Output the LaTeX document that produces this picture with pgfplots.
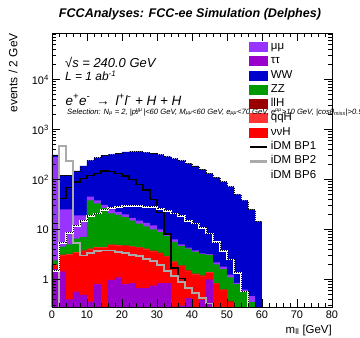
\documentclass[border=0pt]{standalone}
\usepackage{fontspec}
\setmainfont{Liberation Sans}
\usepackage{pgfplots}
\pgfplotsset{compat=1.18}
\usepackage{pgfplotstable}
\definecolor{cmm}{RGB}{153,51,255}
\definecolor{ctt}{RGB}{153,0,204}
\definecolor{cww}{RGB}{0,0,204}
\definecolor{czz}{RGB}{0,153,0}
\definecolor{cllh}{RGB}{153,0,0}
\definecolor{cqqh}{RGB}{255,51,51}
\definecolor{cvvh}{RGB}{255,0,0}
\definecolor{cbp2}{RGB}{170,170,170}
% cumulative stack tops (bottom to top: tt, vvH, qqH, llH, ZZ, mumu, WW) and signal lines
\pgfplotstableread{
x  tt    vvh   qqh   llh   zz    mm    ww    bp1   bp2   bp6
0  1.6   1.9   1.95  1.97  2.4   280   310   13    0.01  1.45
2  1.45  3.0   3.1   3.12  4.5   25    122   42    468   5.4
4  0.4   3.1   3.2   3.22  5.0   25    122   68    234   8.5
6  0.57  3.4   3.5   3.52  6.5   19    148   88    5.4   11.9
8  0.49  3.65  3.77  3.8   7.0   19    186   104   3.0   14.6
10 0.36  3.95  4.1   4.13  38    45    240   120   3.4   18.4
12 0.8   4.25  4.4   4.43  33    38    272   132   3.65  20.8
14 0.01  4.25  4.4   4.43  27    31    307   148   3.77  24.4
16 0.98  4.8   4.95  4.98  21    25    318   145   3.77  27
18 1.1   4.7   4.85  4.88  19.5  22.5  335   133   3.54  28.3
20 0.8   4.6   4.75  4.78  17.5  20    355   117   3.4   29
22 0.84  4.4   4.55  4.58  15    17    360   100   3.13  29
24 0.67  4.2   4.35  4.38  13    15    362   80    2.9   29
26 0.67  3.95  4.1   4.12  11.5  13.5  348   61    2.6   28.5
28 0.75  3.6   3.72  3.74  10    12    334   40    2.3   28
30 0.84  3.3   3.4   3.42  8.8   10    315   22    1.95  25.5
32 0.84  2.8   2.9   2.92  7.3   8.0   286   8.1   1.45  23
34 0.25  2.2   2.28  2.3   5.6   6.3   262   1.69  1.15  20.8
36 0.3   1.82  1.88  1.9   4.7   5.0   237   1.05  0.9   18.4
38 0.42  1.45  1.5   1.51  4.1   4.3   210   0.68  0.68  14.6
40 0.2   1.25  1.29  1.3   3.6   3.8   186   0.52  0.53  13.1
42 0.39  1.15  1.19  1.2   3.2   3.3   159   0.41  0.42  10.7
44 1.0   1.35  1.39  1.4   3.1   3.2   132   0.33  0.33  8.3
46 0.2   0.8   0.83  0.84  2.0   2.2   110   0.01  0.01  5.5
48 0.01  0.6   0.62  0.63  1.6   1.8   90    0.01  0.01  3.65
50 0.01  0.35  0.36  0.37  1.1   1.24  71.5  0.01  0.01  2.49
52 0.01  0.01  0.01  0.01  0.8   0.85  50    0.01  0.01  1.34
54 0.01  0.01  0.01  0.01  0.57  0.62  38    0.01  0.01  0.57
56 0.01  0.01  0.01  0.01  0.35  0.46  25    0.01  0.01  0.01
58 0.01  0.01  0.01  0.01  0.01  0.01  14.4  0.01  0.01  0.01
60 0.01  0.01  0.01  0.01  0.01  0.01  14.4  0.01  0.01  0.01
}\data
\begin{document}
\begin{tikzpicture}[x=1bp,y=1bp]
\begin{axis}[
  scale only axis, width=280bp, height=274bp,
  at={(0,0)}, anchor=south west,
  xmin=0, xmax=80, ymode=log, ymin=0.28, ymax=8.5e4, log origin=infty,
  axis on top,
  axis line style={line width=0.9bp},
  tick style={black, line width=0.6bp},
  major tick length=8bp, minor tick length=4bp,
  xtick={0,10,20,30,40,50,60,70,80},
  xticklabels={0,10,20,30,40,50,60,70,80},
  minor x tick num=4,
  ytick={1,10,100,1000,10000},
  yticklabels={1,10,10\textsuperscript{2},10\textsuperscript{3},10\textsuperscript{4}},
  minor ytick={0.3,0.4,0.5,0.6,0.7,0.8,0.9,2,3,4,5,6,7,8,9,20,30,40,50,60,70,80,90,200,300,400,500,600,700,800,900,2000,3000,4000,5000,6000,7000,8000,9000,20000,30000,40000,50000,60000,70000,80000},
  ticklabel style={font=\fontsize{11}{13}\selectfont},
  xticklabel style={inner sep=0pt, yshift=-3.5bp},
  yticklabel style={inner sep=0pt, xshift=-3bp},
  legend style={at={(0.703,0.977)}, anchor=north west, draw=none, fill=none,
    font=\fontsize{11.5}{13}\selectfont, inner sep=0pt, row sep=0pt,
    nodes={inner sep=0pt, text height=10bp, text depth=4.3bp},
    /tikz/every odd column/.append style={column sep=3.5bp}},
  legend cell align=left,
]
\addplot[fill=cww, draw=none, const plot, forget plot] table[x=x,y=ww]{\data} \closedcycle;
\addplot[fill=cmm, draw=none, const plot, forget plot] table[x=x,y=mm]{\data} \closedcycle;
\addplot[fill=czz, draw=none, const plot, forget plot] table[x=x,y=zz]{\data} \closedcycle;
\addplot[fill=cllh, draw=none, const plot, forget plot] table[x=x,y=llh]{\data} \closedcycle;
\addplot[fill=cqqh, draw=none, const plot, forget plot] table[x=x,y=qqh]{\data} \closedcycle;
\addplot[fill=cvvh, draw=none, const plot, forget plot] table[x=x,y=vvh]{\data} \closedcycle;
\addplot[fill=ctt, draw=none, const plot, forget plot] table[x=x,y=tt]{\data} \closedcycle;
\addplot[black, line width=0.5bp, dash pattern=on 0.7bp off 1.3bp, const plot, forget plot] table[x=x,y=ww]{\data};
\addplot[black, line width=1.4bp, const plot, forget plot] table[x=x,y=bp1]{\data};
\addplot[cbp2, line width=1.8bp, const plot, forget plot] table[x=x,y=bp2]{\data};
\addplot[white, line width=1.8bp, const plot, forget plot] table[x=x,y=bp6]{\data};
\addplot[black, line width=0.5bp, dash pattern=on 0.7bp off 1.3bp, const plot, forget plot, yshift=0.6bp] table[x=x,y=bp6]{\data};
\addlegendimage{legend image code/.code={\fill[cmm] (0bp,-4.5bp) rectangle (18bp,4.5bp);}}
\addlegendentry{μμ}
\addlegendimage{legend image code/.code={\fill[ctt] (0bp,-4.5bp) rectangle (18bp,4.5bp);}}
\addlegendentry{ττ}
\addlegendimage{legend image code/.code={\fill[cww] (0bp,-4.5bp) rectangle (18bp,4.5bp);}}
\addlegendentry{WW}
\addlegendimage{legend image code/.code={\fill[czz] (0bp,-4.5bp) rectangle (18bp,4.5bp);}}
\addlegendentry{ZZ}
\addlegendimage{legend image code/.code={\fill[cllh] (0bp,-4.5bp) rectangle (18bp,4.5bp);}}
\addlegendentry{llH}
\addlegendimage{legend image code/.code={\fill[cqqh] (0bp,-4.5bp) rectangle (18bp,4.5bp);}}
\addlegendentry{qqH}
\addlegendimage{legend image code/.code={\fill[cvvh] (0bp,-4.5bp) rectangle (18bp,4.5bp);}}
\addlegendentry{ννH}
\addlegendimage{legend image code/.code={\fill[white, fill opacity=0] (0bp,-4.5bp) rectangle (18bp,4.5bp); \fill[black] (1bp,-0.7bp) rectangle (17bp,0.7bp);}}
\addlegendentry{iDM BP1}
\addlegendimage{legend image code/.code={\fill[white, fill opacity=0] (0bp,-4.5bp) rectangle (18bp,4.5bp); \fill[cbp2] (1bp,-0.9bp) rectangle (17bp,0.9bp);}}
\addlegendentry{iDM BP2}
\addlegendimage{legend image code/.code={\fill[white, fill opacity=0] (0bp,-4.5bp) rectangle (18bp,4.5bp); \fill[white] (1bp,-0.9bp) rectangle (17bp,0.9bp);}}
\addlegendentry{iDM BP6}
\end{axis}
\node[anchor=base, font=\fontsize{12.6}{14}\selectfont\bfseries\itshape] at (138,290) {FCCAnalyses: FCC-ee Simulation (Delphes)};
\node[anchor=base east, rotate=90, font=\fontsize{12}{14}\selectfont, inner sep=0pt] at (-34.5,274) {events / 2 GeV};
\node[anchor=base east, font=\fontsize{11.5}{13}\selectfont, inner sep=0pt] at (280,-26) {m\textsubscript{ll} [GeV]};
\node[anchor=base west, font=\fontsize{13}{15}\selectfont\itshape, inner sep=0pt] at (13,239.7) {√s = 240.0 GeV};
\node[anchor=base west, font=\fontsize{12}{14}\selectfont\itshape, inner sep=0pt] at (13,226.3) {L = 1 ab\textsuperscript{-1}};
\node[anchor=base west, font=\fontsize{13.5}{15}\selectfont\itshape, inner sep=0pt] at (13.5,202) {e\textsuperscript{+}e\textsuperscript{-} \,→\, l\textsuperscript{+}l\textsuperscript{-} + H + H};
\node[anchor=base west, font=\fontsize{7.7}{9}\selectfont\itshape, inner sep=0pt] at (15,193) {Selection: N\textsubscript{μ} = 2, |p\rlap{\textsuperscript{μμ}}\textsubscript{z}\kern0.5em|<60 GeV, M\textsubscript{μμ}<60 GeV, e\textsubscript{μμ}<70 GeV, e\textsuperscript{μμ}>10 GeV, |cosθ\textsubscript{miss}|>0.98};
\pgfresetboundingbox
\path[use as bounding box] (-52,-31) rectangle (308,307);
\end{tikzpicture}
\end{document}
